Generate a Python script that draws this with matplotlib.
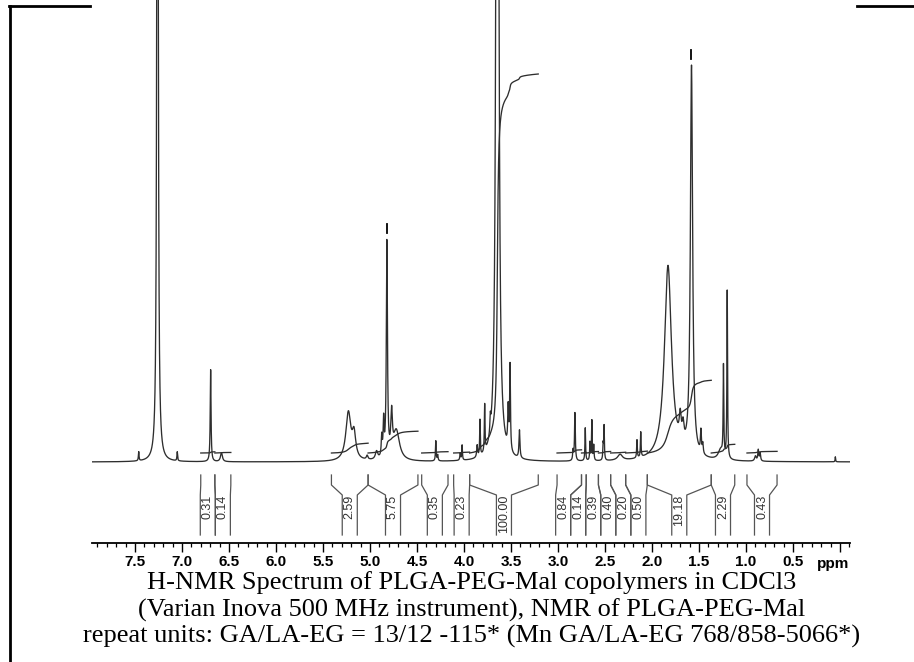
import numpy as np
import matplotlib
matplotlib.use("Agg")
import matplotlib.pyplot as plt
from matplotlib.lines import Line2D
from matplotlib.ticker import MultipleLocator

# peaks: shift (ppm), height above baseline, half width (ppm)
peak_ppm = [7.46, 7.26, 7.05, 6.695, 6.58,
            5.23, 5.17, 5.03, 4.93, 4.875, 4.855, 4.82, 4.77, 4.72,
            4.30, 4.28, 4.04, 4.02, 3.86, 3.83, 3.78, 3.72, 3.645, 3.53, 3.51, 3.41,
            2.84, 2.82, 2.71, 2.66, 2.64, 2.62, 2.52, 2.51, 2.34, 2.16, 2.12,
            1.83, 1.70, 1.67, 1.58, 1.48, 1.46, 1.27, 1.24, 1.20,
            0.90, 0.87, 0.85, 0.05]
peak_height = [9, 1500, 9, 92, 9,
               48, 24, 4, 8, 20, 35, 215, 40, 30,
               20, 6, 7, 15, 12, 36, 47, 15, 2000, 40, 85, 28,
               10, 48, 33, 18, 40, 15, 15, 34, 6, 18, 25,
               195, 25, 18, 390, 22, 10, 10, 90, 168,
               5, 11, 8, 5]
peak_width = [0.004, 0.006, 0.004, 0.005, 0.012,
              0.032, 0.022, 0.010, 0.015, 0.006, 0.006, 0.007, 0.010, 0.040,
              0.004, 0.005, 0.005, 0.004, 0.006, 0.004, 0.004, 0.005, 0.010, 0.006, 0.005, 0.006,
              0.005, 0.005, 0.004, 0.004, 0.004, 0.004, 0.004, 0.004, 0.030, 0.004, 0.004,
              0.045, 0.012, 0.012, 0.014, 0.006, 0.006, 0.030, 0.004, 0.004,
              0.010, 0.006, 0.006, 0.003]

# peaks flagged with a small bar above their top
marked_ppm = [4.82, 1.58]

# integral regions (ppm) and printed integral values
int_start = [6.80, 6.65, 5.41, 5.02, 4.45, 4.11, 3.94, 3.01, 2.75, 2.70, 2.57, 2.44, 2.28, 2.05, 1.37, 0.99]
int_end = [6.65, 6.48, 5.02, 4.49, 4.17, 3.94, 3.21, 2.75, 2.70, 2.57, 2.44, 2.28, 2.05, 1.37, 1.12, 0.67]
int_value = [0.31, 0.14, 2.59, 5.75, 0.35, 0.23, 100.00, 0.84, 0.14, 0.39, 0.40, 0.20, 0.50, 19.18, 2.29, 0.43]

tick_values = [7.5, 7.0, 6.5, 6.0, 5.5, 5.0, 4.5, 4.0, 3.5, 3.0, 2.5, 2.0, 1.5, 1.0, 0.5, 0.0]
tick_labels = ["7.5", "7.0", "6.5", "6.0", "5.5", "5.0", "4.5", "4.0", "3.5", "3.0",
               "2.5", "2.0", "1.5", "1.0", "0.5", ""]

caption = ["H-NMR Spectrum of PLGA-PEG-Mal copolymers in CDCl3",
           "(Varian Inova 500 MHz instrument), NMR of PLGA-PEG-Mal",
           "repeat units: GA/LA-EG = 13/12 -115* (Mn GA/LA-EG 768/858-5066*)"]

W, H = 914, 662
line_col = "#2e2e2e"


def spread(centres, half):
    # push label boxes apart until they no longer overlap
    pos = list(centres)
    for _ in range(2000):
        moved = False
        for i in range(len(pos) - 1):
            gap = pos[i] - pos[i + 1]
            if gap < 2 * half - 1e-6:
                push = (2 * half - gap) / 2
                pos[i] += push
                pos[i + 1] -= push
                moved = True
        if not moved:
            break
    return pos


ppm = np.linspace(7.96, -0.106, 24000)
spec = np.zeros_like(ppm)
for c, h, w in zip(peak_ppm, peak_height, peak_width):
    spec += h / (1 + ((ppm - c) / w) ** 2)

fig = plt.figure(figsize=(W / 100, H / 100), dpi=100)
ax = fig.add_axes([91.7 / W, (H - 543) / H, (850 - 91.7) / W, 543 / H])
ax.set_xlim(7.96, -0.106)
ax.set_ylim(-81, 462)

ax.plot(ppm, spec, color=line_col, lw=0.95)

for p in marked_ppm:
    top = spec[np.abs(ppm - p) < 0.01].max()
    ax.plot([p, p], [top + 6, top + 15], color="black", lw=1.3)

# integral traces, 3.79 units of height per integral unit, sitting 9 above baseline
for a, b, v in zip(int_start, int_end, int_value):
    m = (ppm <= a) & (ppm >= b)
    seg = spec[m]
    cum = np.concatenate([[0], np.cumsum((seg[1:] + seg[:-1]) / 2)])
    cum = cum / cum[-1] * v * 3.79 + 9
    ax.plot(ppm[m], cum, color=line_col, lw=0.95)

# integral brackets and values under the trace
half = 0.08
centres = spread([(a + b) / 2 for a, b in zip(int_start, int_end)], half)
for a, b, v, c in zip(int_start, int_end, int_value, centres):
    ax.plot([a, a, c + half, c + half], [-13, -23, -33, -73], color="#555555", lw=0.9)
    ax.plot([b, b, c - half, c - half], [-13, -23, -33, -73], color="#555555", lw=0.9)
    ax.text(c, -33, "%.2f" % v, rotation=90, ha="center", va="top",
            fontsize=9, family="Liberation Sans", color="#333333")

for s in ["left", "right", "top"]:
    ax.spines[s].set_visible(False)
ax.spines["bottom"].set_linewidth(1.3)
ax.set_yticks([])
ax.set_xticks(tick_values)
ax.set_xticklabels(tick_labels, fontsize=11, fontweight="bold", family="Liberation Sans")
ax.xaxis.set_minor_locator(MultipleLocator(0.1))
ax.tick_params(axis="x", which="major", direction="out", length=6.5, width=1.0, pad=2.5)
ax.tick_params(axis="x", which="minor", direction="out", length=2.6, width=0.9)
fig.text(833 / W, 1 - 564 / H, "ppm", ha="center", va="center",
         fontsize=11, fontweight="bold", family="Liberation Sans")

# page frame remnants
for xs, ys in [([10, 10], [6, H]), ([9, 90], [5.7, 5.7]), ([857, W], [5.7, 5.7])]:
    fig.add_artist(Line2D([x / W for x in xs], [1 - y / H for y in ys],
                          transform=fig.transFigure, color="black", lw=2.0))

for i, t in enumerate(caption):
    fig.text(472 / W, 1 - (589.5 + 26.7 * i) / H, t, ha="center", va="baseline",
             fontsize=19, family="Liberation Serif")

fig.savefig("out.png", dpi=100)
